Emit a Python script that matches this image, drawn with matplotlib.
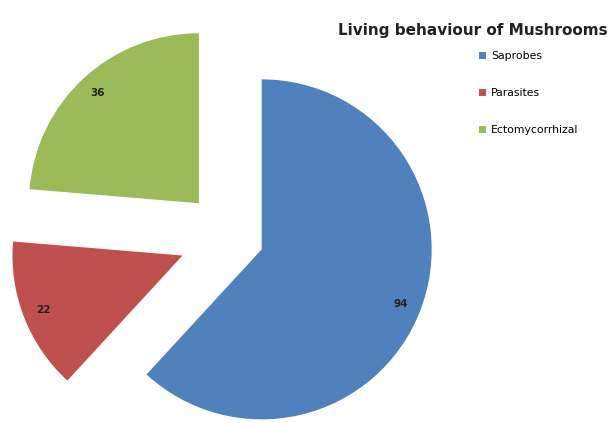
import matplotlib.pyplot as plt

# data
categories = ['Saprobes', 'Parasites', 'Ectomycorrhizal']
counts = [94, 22, 36]
colors = ['#4F81BD', '#C0504D', '#9BBB59']
explode = [0.2, 0.3, 0.27]

total = sum(counts)

fig = plt.figure(figsize=(6.11, 4.23), dpi=100)
ax = fig.add_axes([0, 0, 1, 1])

wedges, texts, autotexts = ax.pie(
    counts, colors=colors, explode=explode, startangle=90, counterclock=False,
    autopct=lambda p: f"{p * total / 100:.0f}", pctdistance=0.88,
    textprops=dict(fontsize=7.5, fontweight='bold', color='#222222'))

# 1 data unit = 170 px, pie centre at (230, 237) px from top-left
r = 170
ax.set_xlim(-230 / r, (611 - 230) / r)
ax.set_ylim(-(423 - 237) / r, 237 / r)
ax.set_aspect('equal')
ax.axis('off')

fig.text(0.995, 0.928, 'Living behaviour of Mushrooms', ha='right', va='center',
         fontsize=11, fontweight='bold', color='#222222')

ax.legend(wedges, categories, loc='upper left', bbox_to_anchor=(479 / 611, 1 - 51 / 423),
          frameon=False, fontsize=7.8, handlelength=0.6, handleheight=0.6,
          handletextpad=0.5, labelspacing=2.5, borderaxespad=0, borderpad=0)

fig.savefig('out.png', dpi=100)
